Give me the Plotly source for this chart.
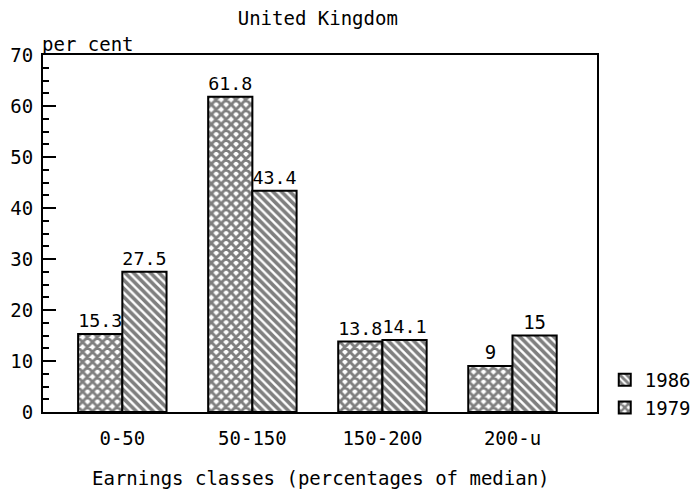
import plotly.graph_objects as go

categories = ["0-50", "50-150", "150-200", "200-u"]
values_1979 = [15.3, 61.8, 13.8, 9]
values_1986 = [27.5, 43.4, 14.1, 15]
labels_1979 = ["15.3", "61.8", "13.8", "9"]
labels_1986 = ["27.5", "43.4", "14.1", "15"]
y_ticks = [0, 10, 20, 30, 40, 50, 60, 70]

FONT = "DejaVu Sans Mono"
FS = 19

fig = go.Figure()
fig.add_trace(go.Bar(
    name="1979", x=categories, y=values_1979,
    text=labels_1979, textposition="outside",
    textfont=dict(family=FONT, size=FS, color="black"),
    marker=dict(color="white", line=dict(color="black", width=2),
                pattern=dict(shape="x", fgcolor="black", bgcolor="white",
                             size=7, solidity=0.65)),
    cliponaxis=False,
))
fig.add_trace(go.Bar(
    name="1986", x=categories, y=values_1986,
    text=labels_1986, textposition="outside",
    textfont=dict(family=FONT, size=FS, color="black"),
    marker=dict(color="white", line=dict(color="black", width=2),
                pattern=dict(shape="\\", fgcolor="black", bgcolor="white",
                             size=6, solidity=0.6)),
    cliponaxis=False,
))

# The page adds an 8px body margin, so the figure is sized to fit the window.
fig.update_layout(
    width=690, height=485,
    margin=dict(l=35, r=101, t=47, b=81, autoexpand=False),
    paper_bgcolor="white", plot_bgcolor="white",
    barmode="group", bargap=0.32, bargroupgap=0,
    font=dict(family=FONT, color="black"),
    title=dict(text="United Kingdom", x=0.449, xanchor="center", y=0.979, yanchor="middle",
               font=dict(family=FONT, size=FS, color="black")),
    showlegend=True,
    legend=dict(x=1.014, xanchor="left", y=0.143, yanchor="top",
                traceorder="reversed", font=dict(family=FONT, size=FS, color="black"),
                bgcolor="rgba(0,0,0,0)", tracegroupgap=0, itemwidth=30),
)

fig.update_xaxes(
    range=[-0.61, 3.65], showgrid=False, zeroline=False, automargin=False,
    showline=True, linecolor="black", linewidth=2, mirror=True,
    ticks="", ticklabelstandoff=8, tickfont=dict(family=FONT, size=FS, color="black"),
)
fig.update_yaxes(
    range=[0, 70], tickvals=y_ticks, showgrid=False, zeroline=False, automargin=False,
    showline=True, linecolor="black", linewidth=2, mirror=True,
    ticks="inside", ticklen=13, tickwidth=2, tickcolor="black",
    minor=dict(dtick=2.5, ticks="inside", ticklen=6, tickwidth=1.5, tickcolor="black"),
    ticklabelstandoff=4,
    tickfont=dict(family=FONT, size=FS, color="black"),
)

fig.add_annotation(text="per cent", xref="paper", yref="paper", x=-0.005, y=1.0,
                   xanchor="left", yanchor="bottom", showarrow=False, yshift=-2,
                   font=dict(family=FONT, size=FS, color="black"))
fig.add_annotation(text="Earnings classes (percentages of median)",
                   xref="paper", yref="paper", x=0.502, y=0, yshift=-66,
                   xanchor="center", yanchor="middle", showarrow=False,
                   font=dict(family=FONT, size=FS, color="black"))

fig.write_html("out.html")
